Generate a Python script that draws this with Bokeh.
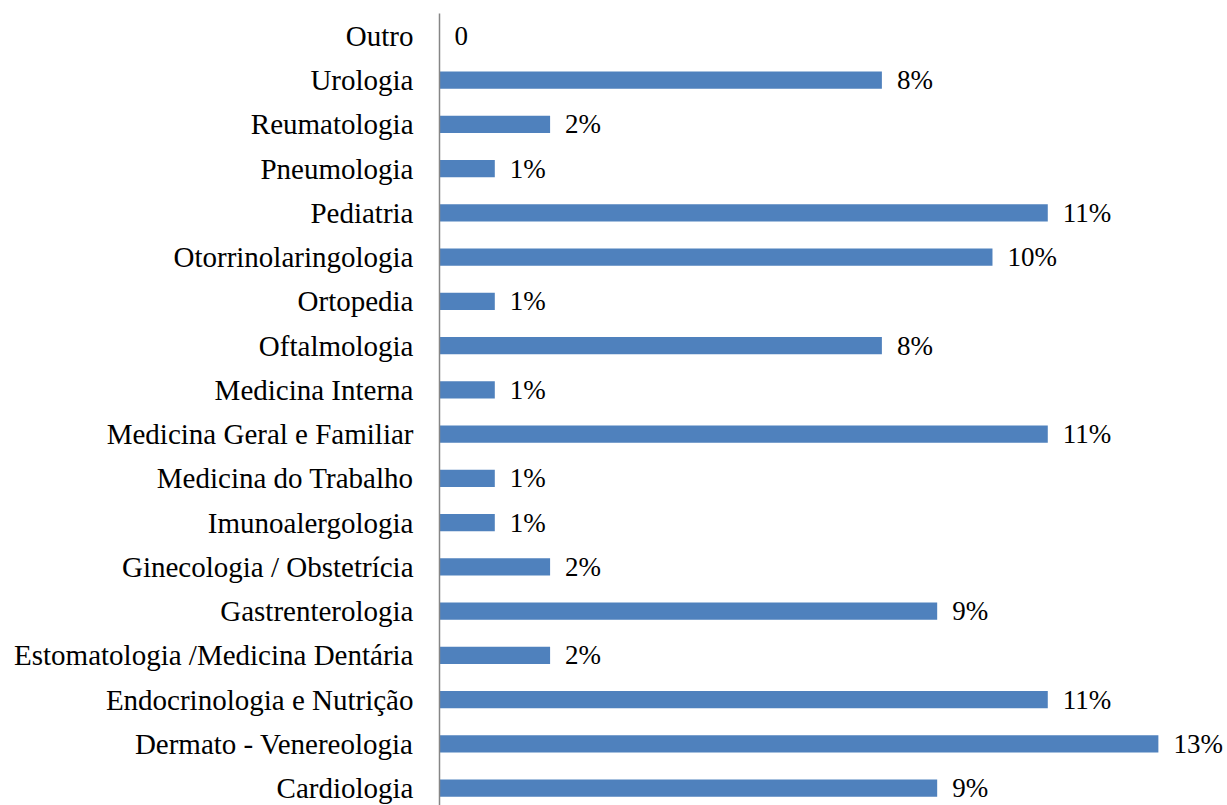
from bokeh.plotting import figure
from bokeh.models import FixedTicker, ColumnDataSource, Range1d
from bokeh.core.properties import value
from bokeh.embed import file_html
from bokeh.resources import INLINE

categories = ["Cardiologia", "Dermato - Venereologia", "Endocrinologia e Nutrição",
              "Estomatologia /Medicina Dentária", "Gastrenterologia",
              "Ginecologia / Obstetrícia", "Imunoalergologia", "Medicina do Trabalho",
              "Medicina Geral e Familiar", "Medicina Interna", "Oftalmologia",
              "Ortopedia", "Otorrinolaringologia", "Pediatria", "Pneumologia",
              "Reumatologia", "Urologia", "Outro"]
values = [9, 13, 11, 2, 9, 2, 1, 1, 11, 1, 8, 1, 10, 11, 1, 2, 8, 0]
labels = ["9%", "13%", "11%", "2%", "9%", "2%", "1%", "1%", "11%", "1%", "8%",
          "1%", "10%", "11%", "1%", "2%", "8%", "0"]

pos = list(range(len(categories)))
src = ColumnDataSource(dict(y=pos, v=values, lab=labels))

FONT = "Liberation Serif"
p = figure(width=1227, height=805, output_backend="svg", toolbar_location=None,
           x_range=Range1d(0, 14.25), y_range=Range1d(-0.395, 17.503),
           x_axis_location=None, min_border_left=439, min_border_right=0,
           min_border_top=13, min_border_bottom=0)
p.outline_line_color = None
p.xgrid.visible = False
p.ygrid.visible = False
p.background_fill_color = "white"

p.hbar(y="y", right="v", left=0, height=0.39, source=src,
       fill_color="#4F81BD", line_color=None)
p.text(x="v", y="y", text="lab", source=src, x_offset=15,
       text_font=value(FONT), text_font_size="27px", text_color="black",
       text_baseline="middle", text_align="left")

ax = p.yaxis[0]
ax.ticker = FixedTicker(ticks=pos)
ax.major_label_overrides = {i: c for i, c in enumerate(categories)}
ax.major_label_text_font = FONT
ax.major_label_text_font_size = "29px"
ax.major_label_text_color = "black"
ax.major_label_standoff = 20
ax.major_tick_line_color = None
ax.minor_tick_line_color = None
ax.axis_line_color = "#868686"
ax.axis_line_width = 1.5

open("out.html", "w").write(file_html(p, INLINE))
